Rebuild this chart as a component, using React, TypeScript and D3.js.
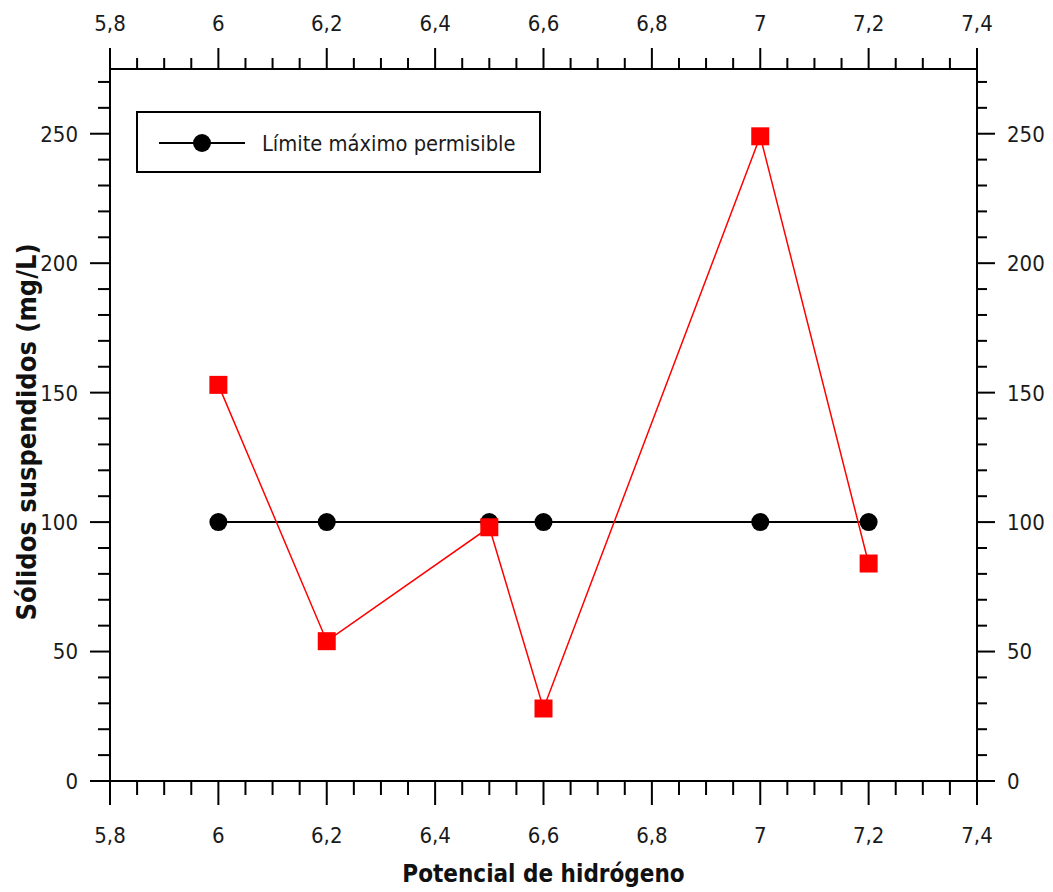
import React from "react";
import * as d3 from "d3";

const phLimit = [6, 6.2, 6.5, 6.6, 7, 7.2];
const limitValues = [100, 100, 100, 100, 100, 100];
const phSamples = [6, 6.2, 6.5, 6.6, 7, 7.2];
const sampleValues = [153, 54, 98, 28, 249, 84];
const xTicks = [5.8, 6, 6.2, 6.4, 6.6, 6.8, 7, 7.2, 7.4];
const yTicks = [0, 50, 100, 150, 200, 250];
const xTitle = "Potencial de hidrógeno";
const yTitle = "Sólidos suspendidos (mg/L)";
const legendLabel = "Límite máximo permisible";

const W = 1053, H = 892;
const L = 110, R = 977, T = 69, B = 781;
const FONT = "'DejaVu Sans Condensed', 'DejaVu Sans', sans-serif";

const fmt = (d: number) => String(+d.toFixed(2)).replace(".", ",");

export default function App() {
  const x = d3.scaleLinear().domain([5.8, 7.4]).range([L, R]);
  const y = d3.scaleLinear().domain([0, 275]).range([B, T]);
  const xMinor = d3.range(5.8, 7.4001, 0.05).filter((v) => !xTicks.some((t) => Math.abs(t - v) < 1e-6));
  const yMinor = d3.range(0, 275, 10).filter((v) => v % 50 !== 0);

  const limitLine = d3.line<number>().x((_, i) => x(phLimit[i])).y((d) => y(d));
  const sampleLine = d3.line<number>().x((_, i) => x(phSamples[i])).y((d) => y(d));

  const tickStyle = { stroke: "#000", strokeWidth: 2 } as const;
  const labelStyle = { fontFamily: FONT, fontSize: 22, fill: "#1a1a1a" } as const;

  return (
    <svg width={W} height={H} style={{ position: "absolute", left: 0, top: 0, background: "#fff" }}>
      <rect x={0} y={0} width={W} height={H} fill="#fff" />
      <rect x={L} y={T} width={R - L} height={B - T} fill="none" stroke="#000" strokeWidth={2} />

      {xTicks.map((t) => (
        <g key={"bx" + t}>
          <line x1={x(t)} x2={x(t)} y1={B} y2={B + 24} {...tickStyle} />
          <text x={x(t)} y={B + 62} textAnchor="middle" {...labelStyle}>{fmt(t)}</text>
          <line x1={x(t)} x2={x(t)} y1={T} y2={T - 21} {...tickStyle} />
          <text x={x(t)} y={T - 38} textAnchor="middle" {...labelStyle}>{fmt(t)}</text>
        </g>
      ))}
      {xMinor.map((t) => (
        <g key={"mx" + t}>
          <line x1={x(t)} x2={x(t)} y1={B} y2={B + 14} {...tickStyle} />
          <line x1={x(t)} x2={x(t)} y1={T} y2={T - 11} {...tickStyle} />
        </g>
      ))}

      {yTicks.map((t) => (
        <g key={"yy" + t}>
          <line x1={L} x2={L - 20} y1={y(t)} y2={y(t)} {...tickStyle} />
          <text x={L - 32} y={y(t)} dy="0.36em" textAnchor="end" {...labelStyle}>{t}</text>
          <line x1={R} x2={R + 18} y1={y(t)} y2={y(t)} {...tickStyle} />
          <text x={R + 30} y={y(t)} dy="0.36em" textAnchor="start" {...labelStyle}>{t}</text>
        </g>
      ))}
      {yMinor.map((t) => (
        <g key={"my" + t}>
          <line x1={L} x2={L - 12} y1={y(t)} y2={y(t)} {...tickStyle} />
          <line x1={R} x2={R + 10} y1={y(t)} y2={y(t)} {...tickStyle} />
        </g>
      ))}

      <text x={(L + R) / 2} y={882} textAnchor="middle" fontFamily={FONT} fontWeight="bold" fontSize={24} fill="#111">
        {xTitle}
      </text>
      <text
        transform={`translate(36, 432) rotate(-90)`}
        textAnchor="middle"
        fontFamily={FONT}
        fontWeight="bold"
        fontSize={27}
        fill="#111"
      >
        {yTitle}
      </text>

      <path d={limitLine(limitValues) || ""} fill="none" stroke="#000" strokeWidth={2} />
      {limitValues.map((v, i) => (
        <circle key={"c" + i} cx={x(phLimit[i])} cy={y(v)} r={9} fill="#000" />
      ))}

      <path d={sampleLine(sampleValues) || ""} fill="none" stroke="#ff0000" strokeWidth={1.5} />
      {sampleValues.map((v, i) => (
        <rect key={"s" + i} x={x(phSamples[i]) - 9} y={y(v) - 9} width={18} height={18} fill="#ff0000" />
      ))}

      <rect x={137} y={112} width={403} height={60} fill="#fff" stroke="#000" strokeWidth={2} />
      <line x1={159} x2={245} y1={143} y2={143} stroke="#000" strokeWidth={2} />
      <circle cx={202} cy={143} r={9} fill="#000" />
      <text x={262} y={143} dy="0.36em" fontFamily={FONT} fontSize={21.7} fill="#1a1a1a">{legendLabel}</text>
    </svg>
  );
}
